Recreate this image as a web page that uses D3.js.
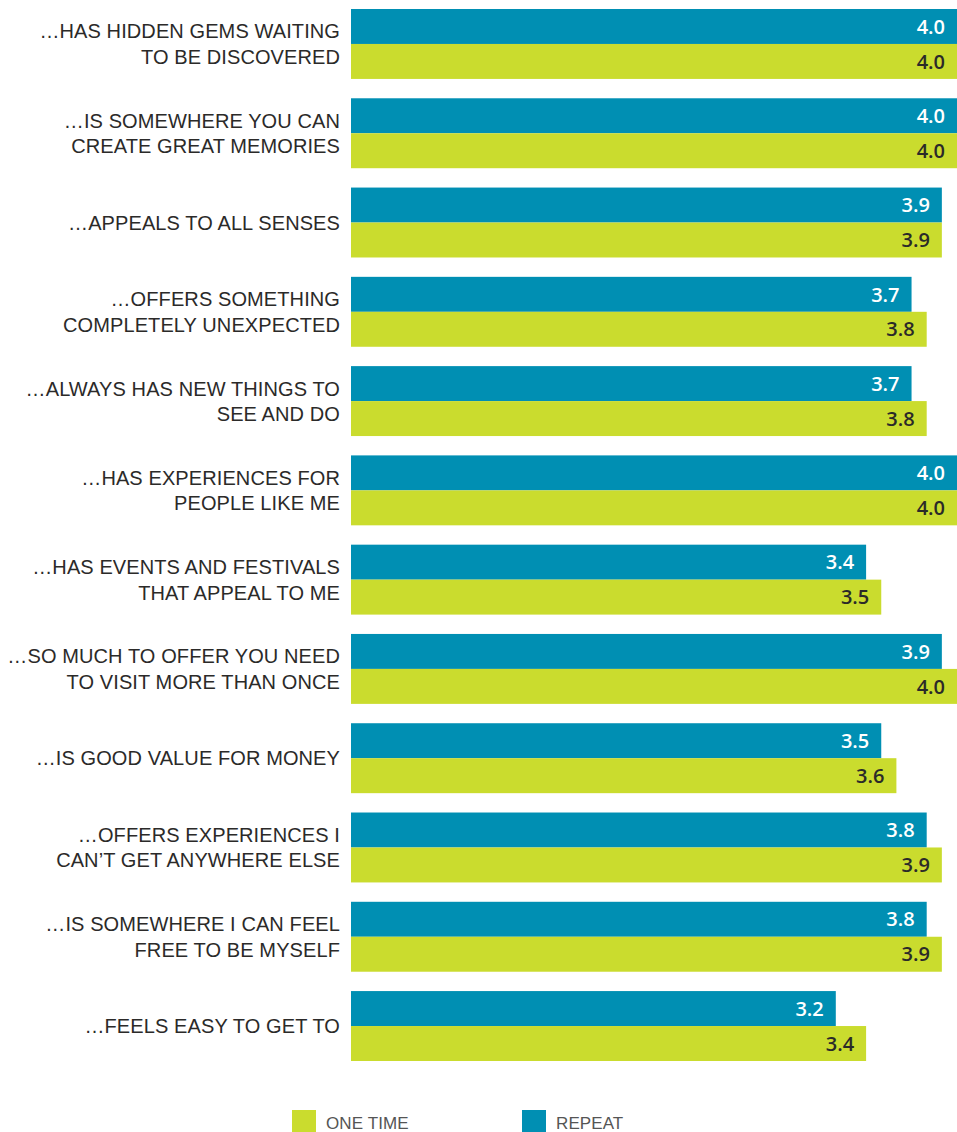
<!DOCTYPE html>
<meta charset="utf-8">
<script src="https://d3js.org/d3.v7.min.js"></script>
<style>
  body { margin: 0; background: #fff; }
</style>
<div id="my_dataviz"></div>
<script>

// categories (line breaks as in the original)
var categories = [
  ["…HAS HIDDEN GEMS WAITING", "TO BE DISCOVERED"],
  ["…IS SOMEWHERE YOU CAN", "CREATE GREAT MEMORIES"],
  ["…APPEALS TO ALL SENSES"],
  ["…OFFERS SOMETHING", "COMPLETELY UNEXPECTED"],
  ["…ALWAYS HAS NEW THINGS TO", "SEE AND DO"],
  ["…HAS EXPERIENCES FOR", "PEOPLE LIKE ME"],
  ["…HAS EVENTS AND FESTIVALS", "THAT APPEAL TO ME"],
  ["…SO MUCH TO OFFER YOU NEED", "TO VISIT MORE THAN ONCE"],
  ["…IS GOOD VALUE FOR MONEY"],
  ["…OFFERS EXPERIENCES I", "CAN’T GET ANYWHERE ELSE"],
  ["…IS SOMEWHERE I CAN FEEL", "FREE TO BE MYSELF"],
  ["…FEELS EASY TO GET TO"]
];

var repeat  = [4.0, 4.0, 3.9, 3.7, 3.7, 4.0, 3.4, 3.9, 3.5, 3.8, 3.8, 3.2];
var oneTime = [4.0, 4.0, 3.9, 3.8, 3.8, 4.0, 3.5, 4.0, 3.6, 3.9, 3.9, 3.4];

var seriesKeys = ["repeat", "oneTime"];
var seriesNames = {repeat: "REPEAT", oneTime: "ONE TIME"};
var colors = {repeat: "#008fb3", oneTime: "#cadc2e"};
var valueColors = {repeat: "#ffffff", oneTime: "#2b2a29"};

var width = 957, height = 1132;

var svg = d3.select("#my_dataviz")
  .append("svg")
    .attr("width", width)
    .attr("height", height);

var data = categories.map(function(c, i) {
  return {i: i, lines: c, repeat: repeat[i], oneTime: oneTime[i]};
});

// scales
var x = d3.scaleLinear()
  .domain([0, 4.0])
  .range([351, 957]);

var y = d3.scaleBand()
  .domain(d3.range(categories.length))
  .range([9, 1061])
  .paddingInner(0.2167)
  .paddingOuter(0);

var ySub = d3.scaleBand()
  .domain(seriesKeys)
  .range([0, y.bandwidth()])
  .padding(0);

var groups = svg.selectAll(".grp")
  .data(data)
  .enter()
  .append("g")
    .attr("class", "grp")
    .attr("transform", function(d) { return "translate(0," + y(d.i) + ")"; });

// bars
groups.selectAll("rect")
  .data(function(d) { return seriesKeys.map(function(k) { return {key: k, value: d[k]}; }); })
  .enter()
  .append("rect")
    .attr("x", x(0))
    .attr("y", function(d) { return ySub(d.key); })
    .attr("width", function(d) { return x(d.value) - x(0); })
    .attr("height", ySub.bandwidth())
    .attr("fill", function(d) { return colors[d.key]; });

// value labels
groups.selectAll(".val")
  .data(function(d) { return seriesKeys.map(function(k) { return {key: k, value: d[k]}; }); })
  .enter()
  .append("text")
    .attr("class", "val")
    .attr("x", function(d) { return x(d.value) - 12; })
    .attr("y", function(d) { return ySub(d.key) + ySub.bandwidth() / 2; })
    .attr("dy", "0.36em")
    .attr("text-anchor", "end")
    .style("font-family", "'Open Sans', sans-serif")
    .style("font-weight", "600")
    .style("font-size", "20px")
    .attr("fill", function(d) { return valueColors[d.key]; })
    .text(function(d) { return d3.format(".1f")(d.value); });

// category labels
var lineH = 25.5;
groups.append("text")
    .attr("class", "cat")
    .attr("text-anchor", "end")
    .style("font-family", "'Liberation Sans', sans-serif")
    .style("font-size", "20px")
    .style("letter-spacing", "0.1px")
    .attr("fill", "#2b2a29")
  .selectAll("tspan")
  .data(function(d) { return d.lines.map(function(l, j) { return {l: l, j: j, n: d.lines.length}; }); })
  .enter()
  .append("tspan")
    .attr("x", 340)
    .attr("y", function(d) { return y.bandwidth() / 2 + (d.j - (d.n - 1) / 2) * lineH; })
    .attr("dy", "0.36em")
    .text(function(d) { return d.l; });

// legend
var legendItems = [
  {key: "oneTime", x: 292},
  {key: "repeat", x: 522}
];
var legend = svg.selectAll(".legend")
  .data(legendItems)
  .enter()
  .append("g")
    .attr("class", "legend")
    .attr("transform", function(d) { return "translate(" + d.x + ",1110)"; });

legend.append("rect")
    .attr("width", 24)
    .attr("height", 24)
    .attr("fill", function(d) { return colors[d.key]; });

legend.append("text")
    .attr("x", 34)
    .attr("y", 19)
    .style("font-family", "'Liberation Sans', sans-serif")
    .style("font-size", "17px")
    .style("letter-spacing", "0.1px")
    .attr("fill", "#555")
    .text(function(d) { return seriesNames[d.key]; });

</script>
